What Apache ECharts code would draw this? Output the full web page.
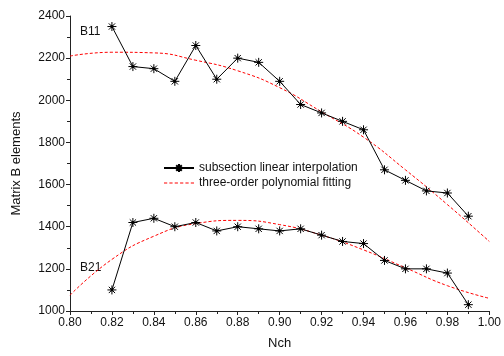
<!DOCTYPE html>
<html>
<head>
<meta charset="utf-8">
<script src="https://cdn.jsdelivr.net/npm/echarts@6/dist/echarts.min.js"></script>
<style>html,body{margin:0;padding:0;background:#fff}#c{width:504px;height:356px}</style>
</head>
<body>
<div id="c"></div>
<script>
var nch = [0.82,0.83,0.84,0.85,0.86,0.87,0.88,0.89,0.90,0.91,0.92,0.93,0.94,0.95,0.96,0.97,0.98,0.99];
var b11 = [2350,2160,2150,2090,2260,2100,2200,2180,2090,1980,1940,1900,1860,1670,1620,1570,1560,1450];
var b21 = [1100,1420,1440,1400,1420,1380,1400,1390,1380,1390,1360,1330,1320,1240,1200,1200,1180,1030];
var fitX = [0.80,0.82,0.84,0.86,0.88,0.90,0.92,0.94,0.96,0.98,1.00];
var fitB11 = [2210,2228,2225,2190,2140,2060,1945,1825,1670,1505,1330];
var fitB21 = [1075,1245,1355,1415,1430,1410,1360,1290,1205,1120,1060];
var xTicks = {min:0.80, max:1.00, interval:0.02};
var yTicks = {min:1000, max:2400, interval:200};

function pairs(xs, ys){ return xs.map(function(x,i){return [x, ys[i]];}); }
var FONT = '"Liberation Sans", Arial, sans-serif';
var AX = '#222';
var star = 'path://M0,-10L0,10M-10,0L10,0M-7,-7L7,7M7,-7L-7,7M-2,-2L2,-2L2,2L-2,2Z';
var dashIcon = 'path://';
for (var d = 0; d < 30; d += 5) { dashIcon += 'M' + d + ',0h3v1h-3z'; }

var chart = echarts.init(document.getElementById('c'));
var lineStar = {
  type:'line', symbol: star, symbolSize: 9, showSymbol:true,
  itemStyle:{color:'#000', borderColor:'#000', borderWidth:1},
  lineStyle:{color:'#000', width:1}, z:3, animation:false
};
var fitLine = {
  type:'line', showSymbol:false, symbol:'none', smooth:true,
  lineStyle:{color:'#ff0000', width:1, type:[3,2]},
  itemStyle:{color:'#ff0000'}, z:2, animation:false
};
chart.setOption({
  animation:false,
  textStyle:{fontFamily:FONT},
  grid:{left:70, right:12, top:16, bottom:45},
  legend:{
    orient:'vertical', left:158, top:157, itemWidth:30, itemHeight:10, itemGap:3,
    textStyle:{fontFamily:FONT, fontSize:12, color:'#111'},
    data:[
      {name:'subsection linear interpolation'},
      {name:'three-order polynomial fitting', icon: dashIcon}
    ]
  },
  xAxis:{
    type:'value', min:xTicks.min, max:xTicks.max, interval:xTicks.interval,
    name:'Nch', nameLocation:'middle', nameGap:26,
    nameTextStyle:{fontFamily:FONT, fontSize:13, color:'#111'},
    axisLine:{show:true, onZero:false, lineStyle:{color:AX, width:1}},
    axisTick:{show:true, length:4, inside:false, lineStyle:{color:AX}},
    minorTick:{show:true, splitNumber:2, length:3, lineStyle:{color:AX}},
    splitLine:{show:false},
    axisLabel:{fontFamily:FONT, fontSize:12, color:'#111', margin:6, formatter:function(v){return v.toFixed(2);}}
  },
  yAxis:{
    type:'value', min:yTicks.min, max:yTicks.max, interval:yTicks.interval,
    name:'Matrix B elements', nameLocation:'middle', nameGap:47,
    nameTextStyle:{fontFamily:FONT, fontSize:13, color:'#111'},
    axisLine:{show:true, lineStyle:{color:AX, width:1}},
    axisTick:{show:true, length:4, inside:false, lineStyle:{color:AX}},
    minorTick:{show:true, splitNumber:2, length:3, lineStyle:{color:AX}},
    splitLine:{show:false},
    axisLabel:{fontFamily:FONT, fontSize:12, color:'#111', margin:5, formatter:function(v){return String(v);}}
  },
  series:[
    Object.assign({name:'subsection linear interpolation', data:pairs(nch,b11)}, lineStar),
    Object.assign({name:'subsection linear interpolation', data:pairs(nch,b21)}, lineStar),
    Object.assign({name:'three-order polynomial fitting', data:pairs(fitX,fitB11)}, fitLine),
    Object.assign({name:'three-order polynomial fitting', data:pairs(fitX,fitB21)}, fitLine)
  ],
  graphic:[
    {type:'text', left:80, top:26, style:{text:'B11', fontFamily:FONT, fontSize:12, fill:'#111'}},
    {type:'text', left:80, top:262, style:{text:'B21', fontFamily:FONT, fontSize:12, fill:'#111'}}
  ]
});
</script>
</body>
</html>
